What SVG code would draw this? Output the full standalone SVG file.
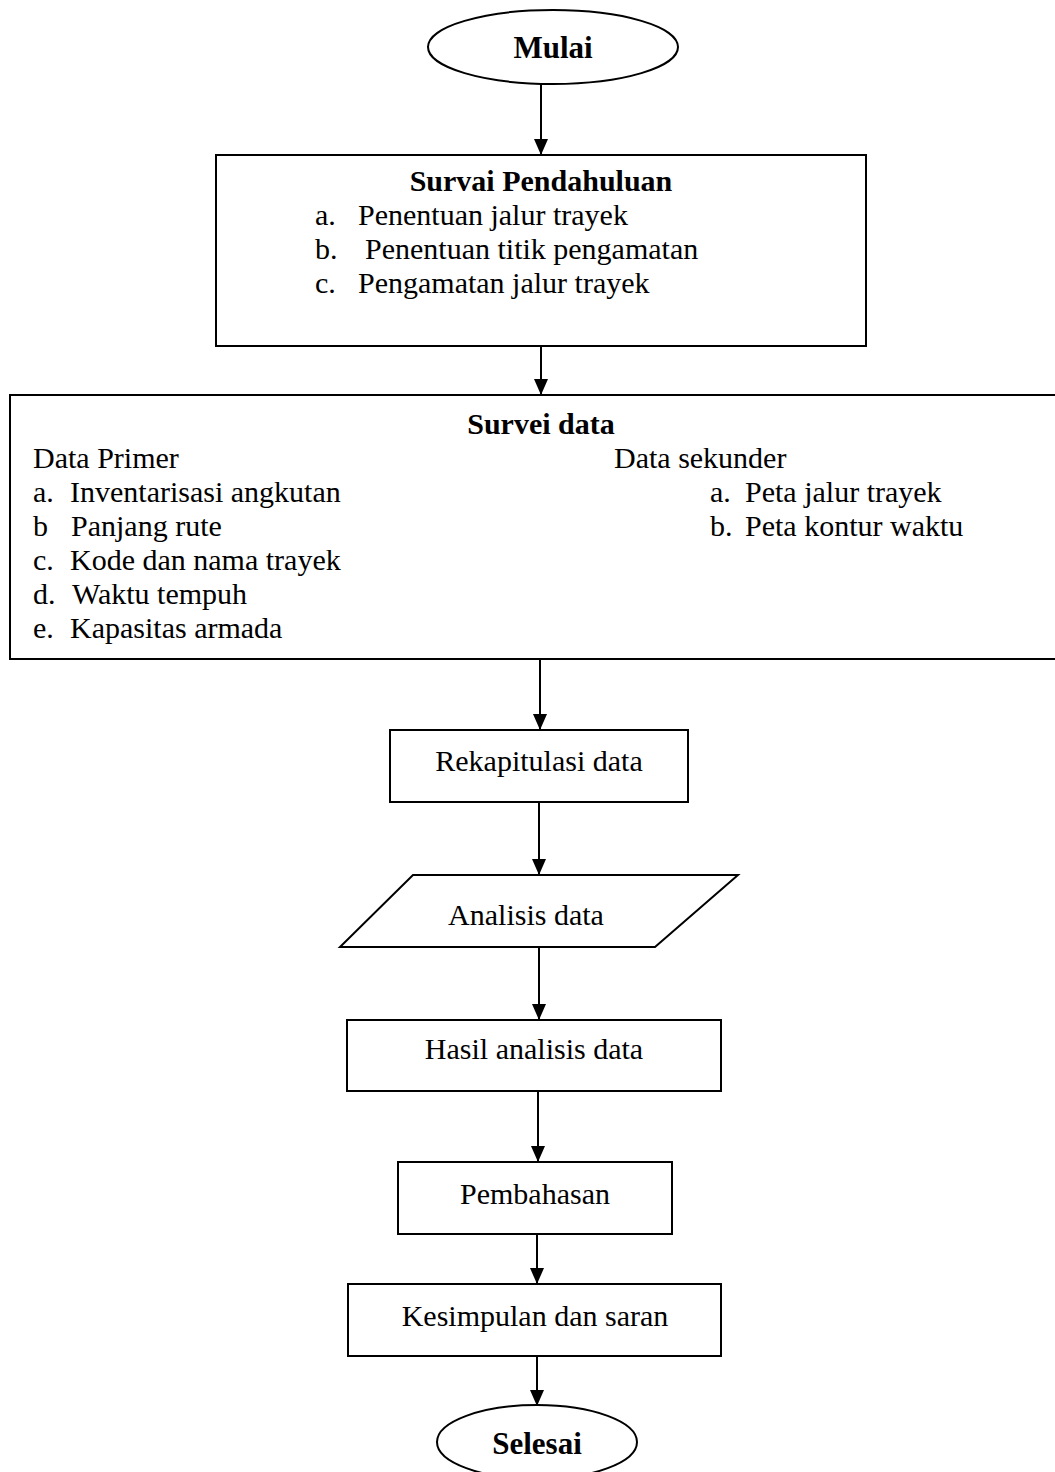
<svg xmlns="http://www.w3.org/2000/svg" width="1055" height="1472" viewBox="0 0 1055 1472">
<style>
.shape{fill:#fff;stroke:#000;stroke-width:2}
.t{font-family:"Liberation Serif","Times New Roman",serif;font-size:30px;fill:#000}
.b{font-weight:bold}
.c{text-anchor:middle}
.conn{stroke:#000;stroke-width:2;fill:none}
</style>
<defs>
<marker id="arr" markerUnits="userSpaceOnUse" markerWidth="14" markerHeight="18" refX="7" refY="17" orient="auto-start-reverse" viewBox="0 0 14 18">
<path d="M0,0 L14,0 L7,18 Z" fill="#000" transform="rotate(0)"/>
</marker>
<marker id="ah" markerUnits="userSpaceOnUse" markerWidth="16" markerHeight="14" refX="16" refY="7" orient="auto" viewBox="0 0 16 14">
<path d="M0,0 L16,7 L0,14 Z" fill="#000"/>
</marker>
</defs>
<rect width="1055" height="1472" fill="#fff"/>

<g id="connectors">
<line class="conn" x1="541" y1="84" x2="541" y2="155" marker-end="url(#ah)"/>
<line class="conn" x1="541" y1="346" x2="541" y2="395" marker-end="url(#ah)"/>
<line class="conn" x1="540" y1="659" x2="540" y2="730" marker-end="url(#ah)"/>
<line class="conn" x1="539" y1="802" x2="539" y2="875" marker-end="url(#ah)"/>
<line class="conn" x1="539" y1="947" x2="539" y2="1020" marker-end="url(#ah)"/>
<line class="conn" x1="538" y1="1091" x2="538" y2="1162" marker-end="url(#ah)"/>
<line class="conn" x1="537" y1="1234" x2="537" y2="1284" marker-end="url(#ah)"/>
<line class="conn" x1="537" y1="1356" x2="537" y2="1406" marker-end="url(#ah)"/>
</g>

<g id="mulai">
<ellipse class="shape" cx="553" cy="47" rx="125" ry="37"/>
<text class="t b c" x="553" y="58" style="font-size:31px">Mulai</text>
</g>

<g id="survai-pendahuluan">
<rect class="shape" x="216" y="155" width="650" height="191"/>
<text class="t b c" x="541" y="191">Survai Pendahuluan</text>
<text class="t" x="315" y="225">a.</text>
<text class="t" x="358" y="225">Penentuan jalur trayek</text>
<text class="t" x="315" y="259">b.</text>
<text class="t" x="365" y="259">Penentuan titik pengamatan</text>
<text class="t" x="315" y="293">c.</text>
<text class="t" x="358" y="293">Pengamatan jalur trayek</text>
</g>

<g id="survei-data">
<path class="shape" d="M1060,395 L10,395 L10,659 L1060,659"/>
<text class="t b c" x="541" y="434">Survei data</text>
<text class="t" x="33" y="468">Data Primer</text>
<text class="t" x="33" y="502">a.</text>
<text class="t" x="70" y="502">Inventarisasi angkutan</text>
<text class="t" x="33" y="536">b</text>
<text class="t" x="71" y="536">Panjang rute</text>
<text class="t" x="33" y="570">c.</text>
<text class="t" x="70" y="570">Kode dan nama trayek</text>
<text class="t" x="33" y="604">d.</text>
<text class="t" x="72" y="604">Waktu tempuh</text>
<text class="t" x="33" y="638">e.</text>
<text class="t" x="70" y="638">Kapasitas armada</text>
<text class="t" x="614" y="468">Data sekunder</text>
<text class="t" x="710" y="502">a.</text>
<text class="t" x="745" y="502">Peta jalur trayek</text>
<text class="t" x="710" y="536">b.</text>
<text class="t" x="745" y="536">Peta kontur waktu</text>
</g>

<g id="rekapitulasi">
<rect class="shape" x="390" y="730" width="298" height="72"/>
<text class="t c" x="539" y="771">Rekapitulasi data</text>
</g>

<g id="analisis">
<polygon class="shape" points="413,875 738,875 655,947 340,947"/>
<text class="t c" x="526" y="925">Analisis data</text>
</g>

<g id="hasil">
<rect class="shape" x="347" y="1020" width="374" height="71"/>
<text class="t c" x="534" y="1059">Hasil analisis data</text>
</g>

<g id="pembahasan">
<rect class="shape" x="398" y="1162" width="274" height="72"/>
<text class="t c" x="535" y="1204">Pembahasan</text>
</g>

<g id="kesimpulan">
<rect class="shape" x="348" y="1284" width="373" height="72"/>
<text class="t c" x="535" y="1326">Kesimpulan dan saran</text>
</g>

<g id="selesai">
<ellipse class="shape" cx="537" cy="1442" rx="100" ry="37"/>
<text class="t b c" x="537" y="1454" style="font-size:31px">Selesai</text>
</g>
</svg>
